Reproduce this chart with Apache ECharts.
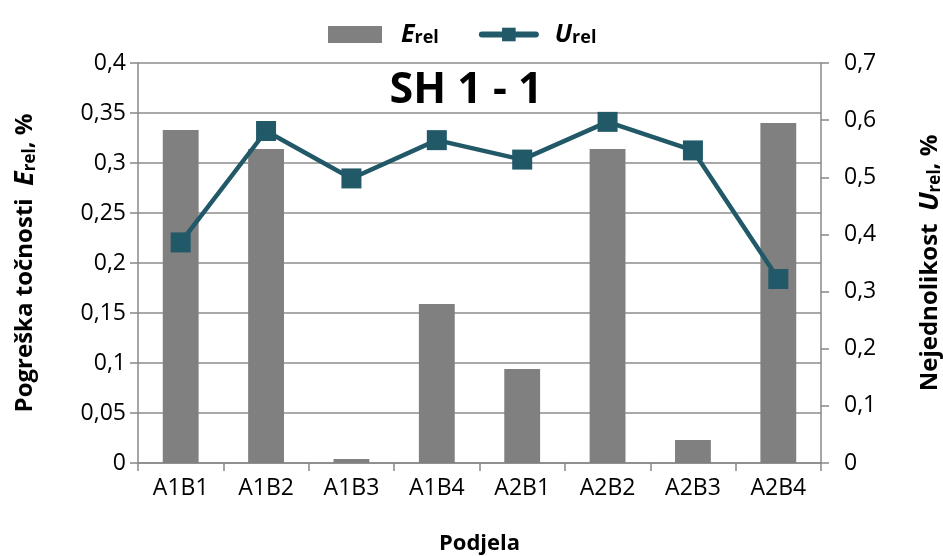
<!DOCTYPE html>
<html><head><meta charset="utf-8">
<script src="https://cdn.jsdelivr.net/npm/echarts@6/dist/echarts.min.js"></script>
<style>html,body{margin:0;padding:0;background:#fff;overflow:hidden}#c{width:943px;height:556px;position:absolute;left:0;top:0}</style>
</head><body><div id="c"></div>
<script>
const categories = ['A1B1','A1B2','A1B3','A1B4','A2B1','A2B2','A2B3','A2B4'];
const eRel = [0.333, 0.314, 0.004, 0.159, 0.094, 0.314, 0.023, 0.340];
const uRel = [0.386, 0.581, 0.498, 0.565, 0.531, 0.597, 0.547, 0.322];
const leftTicks = [0, 0.05, 0.1, 0.15, 0.2, 0.25, 0.3, 0.35, 0.4];
const rightTicks = [0, 0.1, 0.2, 0.3, 0.4, 0.5, 0.6, 0.7];

const FONT = '"Open Sans", "Noto Sans", sans-serif';
const fmt = v => String(+v.toFixed(2)).replace('.', ',');
const chart = echarts.init(document.getElementById('c'), null, {renderer: 'canvas', width: 943, height: 556});
const nameRich = {
  a: {fontFamily: FONT, fontWeight: 'bold', fontSize: 24, color: '#000'},
  e: {fontFamily: FONT, fontWeight: 'bold', fontStyle: 'italic', fontSize: 27, color: '#000'},
  s: {fontFamily: FONT, fontWeight: 'bold', fontSize: 17, color: '#000', padding: [11, 0, 0, 0]}
};
chart.setOption({
  animation: false,
  backgroundColor: '#fff',
  title: {
    text: 'SH 1 - 1', left: 461, top: 64, textAlign: 'center',
    textStyle: {fontFamily: FONT, fontWeight: 'bold', fontSize: 43, color: '#000'}
  },
  legend: {
    top: 17, left: 323, itemWidth: 54, itemHeight: 17, itemGap: 40,
    data: [
      {name: 'Erel', icon: 'rect'},
      {name: 'Urel', lineStyle: {width: 6, cap: 'round'}}
    ],
    formatter: n => n === 'Erel' ? '{e|E}{s|rel}' : '{e|U}{s|rel}',
    textStyle: {
      padding: [0, 0, 0, 14],
      rich: {
        e: {fontFamily: FONT, fontWeight: 'bold', fontStyle: 'italic', fontSize: 25, color: '#000'},
        s: {fontFamily: FONT, fontWeight: 'bold', fontSize: 18, color: '#000', padding: [7, 0, 0, 0]}
      }
    }
  },
  grid: {left: 138, right: 122, top: 63, bottom: 93, containLabel: false, outerBoundsMode: 'none'},
  xAxis: {
    type: 'category', data: categories,
    name: 'Podjela', nameLocation: 'middle', nameGap: 70,
    nameTextStyle: {fontFamily: FONT, fontWeight: 'bold', fontSize: 22, color: '#000'},
    axisLine: {lineStyle: {color: '#888', width: 1.5}},
    axisTick: {show: true, alignWithLabel: false, length: 8, lineStyle: {color: '#888', width: 1.5}},
    axisLabel: {fontFamily: FONT, fontSize: 23, color: '#000', margin: 14}
  },
  yAxis: [
    {
      type: 'value', min: 0, max: 0.4, interval: 0.05, position: 'left',
      name: '{a|Pogreška točnosti  }{e|E}{s|rel}{a|, %}', nameLocation: 'middle', nameRotate: 90, nameGap: 99,
      nameTextStyle: {rich: nameRich},
      axisLine: {show: true, lineStyle: {color: '#888', width: 1.5}},
      axisTick: {show: true, length: 8, lineStyle: {color: '#888', width: 1.5}},
      axisLabel: {fontFamily: FONT, fontSize: 23, color: '#000', margin: 12, formatter: v => fmt(v)},
      splitLine: {show: true, lineStyle: {color: '#8c8c8c', width: 1.5}}
    },
    {
      type: 'value', min: 0, max: 0.7, interval: 0.1, position: 'right',
      name: '{a|Nejednolikost  }{e|U}{s|rel}{a|, %}', nameLocation: 'middle', nameRotate: 90, nameGap: 95,
      nameTextStyle: {rich: nameRich},
      axisLine: {show: true, lineStyle: {color: '#888', width: 1.5}},
      axisTick: {show: true, length: 8, lineStyle: {color: '#888', width: 1.5}},
      axisLabel: {fontFamily: FONT, fontSize: 23, color: '#000', margin: 23, formatter: v => fmt(v)},
      splitLine: {show: false}
    }
  ],
  series: [
    {
      name: 'Erel', type: 'bar', yAxisIndex: 0, data: eRel, barWidth: '42%',
      itemStyle: {color: '#808080'}
    },
    {
      name: 'Urel', type: 'line', yAxisIndex: 1, data: uRel,
      symbol: 'rect', symbolSize: 20,
      lineStyle: {color: '#215968', width: 4.5},
      itemStyle: {color: '#215968'}
    }
  ]
});
</script></body></html>
